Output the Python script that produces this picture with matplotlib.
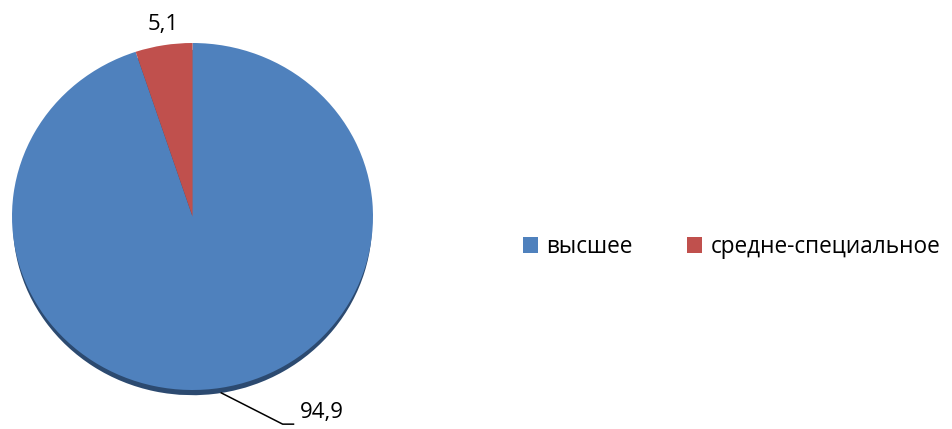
import numpy as np
import matplotlib
matplotlib.use("Agg")
import matplotlib.pyplot as plt
from matplotlib.patches import Patch

plt.rcParams['font.family'] = ['Open Sans', 'DejaVu Sans']

categories = ["высшее", "средне-специальное"]
values = [94.9, 5.1]
value_labels = ["94,9", "5,1"]
colors = ["#4F81BD", "#C0504D"]

W, H = 953, 429
fig = plt.figure(figsize=(W / 100, H / 100), dpi=100)

# pie axes: slightly squashed ellipse like the original Excel chart
cx, cy, rx, ry = 192.5, 216.5, 180.5, 173.5
ax = fig.add_axes([(cx - rx) / W, (H - cy - ry) / H, 2 * rx / W, 2 * ry / H])

# shadow under the pie
ax.pie(values, colors=["#2C4A70", "#2C4A70"], startangle=90, counterclock=False,
       center=(0, -0.035), radius=0.995, wedgeprops=dict(linewidth=0))
wedges, _ = ax.pie(values, colors=colors, startangle=90, counterclock=False,
                   radius=1, wedgeprops=dict(linewidth=0))
ax.set_aspect("auto")
ax.set_xlim(-1, 1)
ax.set_ylim(-1, 1)
ax.axis("off")

# data labels
for w, lab in zip(wedges, value_labels):
    ang = np.radians((w.theta1 + w.theta2) / 2)
    ex, ey = np.cos(ang), np.sin(ang)
    if ey > 0:
        ax.text(ex * 1.13 + 0.02, ey * 1.12, lab, ha="center", va="center",
                fontsize=16, clip_on=False)
    else:
        px, py = ex, ey * 1.03
        elbow = (px + 0.34, py - 0.18)
        end = (elbow[0] + 0.06, elbow[1])
        ax.plot([px, elbow[0], end[0]], [py, elbow[1], end[1]],
                color="black", lw=1.1, clip_on=False)
        ax.text(end[0] + 0.035, end[1] + 0.005, lab, ha="left", va="bottom",
                fontsize=16, clip_on=False)

handles = [Patch(facecolor=c, edgecolor="none") for c in colors]
fig.legend(handles, categories, loc="center left",
           bbox_to_anchor=(523 / W, 1 - 247 / H), ncol=2, frameon=False,
           fontsize=16.3, handlelength=0.68, handleheight=0.68,
           handletextpad=0.35, columnspacing=2.4, borderpad=0, borderaxespad=0)

fig.savefig("out.png", dpi=100)
